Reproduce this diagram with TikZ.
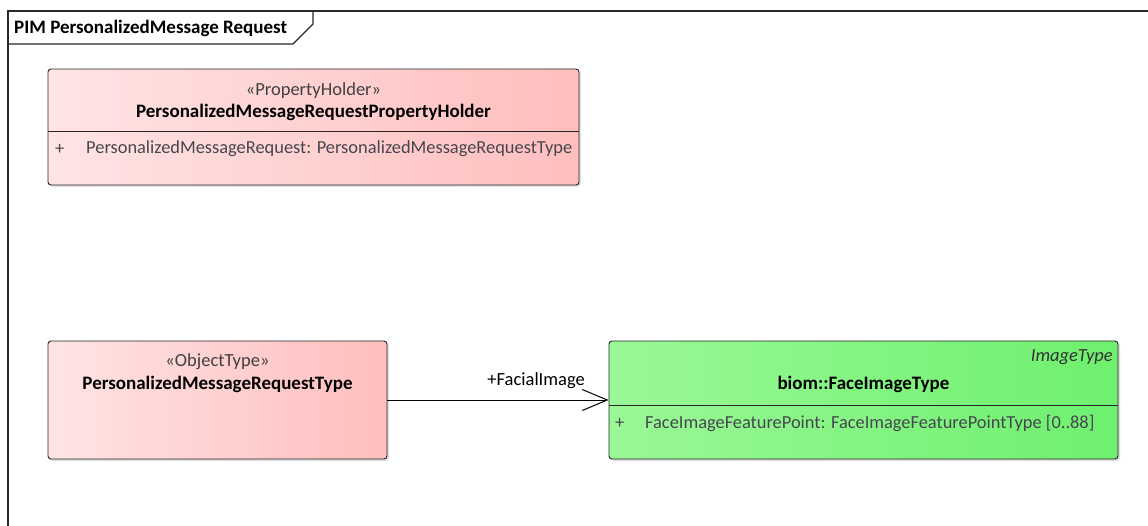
\documentclass[tikz,border=0pt]{standalone}
\usepackage{fontspec}
\setmainfont{Carlito}
\usetikzlibrary{arrows.meta,shadows,calc}
\definecolor{pinkL}{RGB}{255,228,228}
\definecolor{pinkR}{RGB}{255,190,190}
\definecolor{greenL}{RGB}{154,248,150}
\definecolor{greenR}{RGB}{110,240,110}
\definecolor{framec}{RGB}{40,40,40}
\definecolor{attrc}{RGB}{70,70,80}
\tikzset{
  umlbox/.style={draw=black!85, line width=0.9pt, rounded corners=3pt, inner sep=0pt,
    drop shadow={shadow xshift=2pt, shadow yshift=-2pt, opacity=0.25}},
  pinkbox/.style={umlbox, left color=pinkL, right color=pinkR},
  greenbox/.style={umlbox, left color=greenL, right color=greenR},
  sttext/.style={font=\fontsize{18.5}{20}\selectfont, text=black!75, inner sep=0pt},
  nametext/.style={font=\fontsize{19}{21}\selectfont\bfseries, text=black, inner sep=0pt},
  attrtext/.style={font=\fontsize{18.4}{20}\selectfont, text=attrc, inner sep=0pt, anchor=west},
  divider/.style={draw=black!85, line width=0.9pt},
  assoc/.style={draw=black, line width=1pt, -{Straight Barb[length=25pt,width=21pt,line width=1pt]}},
}
\begin{document}
\begin{tikzpicture}[x=1pt,y=-1pt]
\useasboundingbox (0,0) rectangle (1148,526);
% frame
\draw[framec, line width=1.2pt] (8,526) -- (8,11) -- (1148,11);
\draw[framec, line width=1.2pt] (8,44) -- (293,44) -- (313,24) -- (313,11);
\node[anchor=west, font=\fontsize{19}{21}\selectfont\bfseries, inner sep=0pt] (ftitle) at (14,28) {PIM PersonalizedMessage Request};

% box 1
\node[pinkbox, minimum width=531pt, minimum height=116pt] (b1) at (313.5,127) {};
\draw[divider] (48,131) -- (579,131);
\node[sttext] (b1st) at (313.5,91) {«PropertyHolder»};
\node[nametext] (b1nm) at (313.5,112) {PersonalizedMessageRequestPropertyHolder};
\node[attrtext] (b1pl) at (55,149) {+};
\node[attrtext] (b1at) at (86,149) {PersonalizedMessageRequest: PersonalizedMessageRequestType};

% box 2
\node[pinkbox, minimum width=339pt, minimum height=118pt] (b2) at (217.5,400) {};
\node[sttext] (b2st) at (217.5,362) {«ObjectType»};
\node[nametext] (b2nm) at (217.5,384) {PersonalizedMessageRequestType};

% box 3
\node[greenbox, minimum width=509pt, minimum height=118pt] (b3) at (863.5,400) {};
\draw[divider] (609,405) -- (1118,405);
\node[anchor=east, font=\fontsize{18.5}{20}\selectfont\itshape, text=black!80, inner sep=0pt] (b3st) at (1113,357) {ImageType};
\node[nametext] (b3nm) at (863.5,384) {biom::FaceImageType};
\node[attrtext] (b3pl) at (615,423) {+};
\node[attrtext] (b3at) at (645,423) {FaceImageFeaturePoint: FaceImageFeaturePointType [0..88]};

% association
\draw[assoc] (b2.east) -- (b3.west);
\node[anchor=east, font=\fontsize{18.5}{20}\selectfont, inner sep=0pt] (lbl) at (585,381) {+FacialImage};
\end{tikzpicture}
\end{document}
